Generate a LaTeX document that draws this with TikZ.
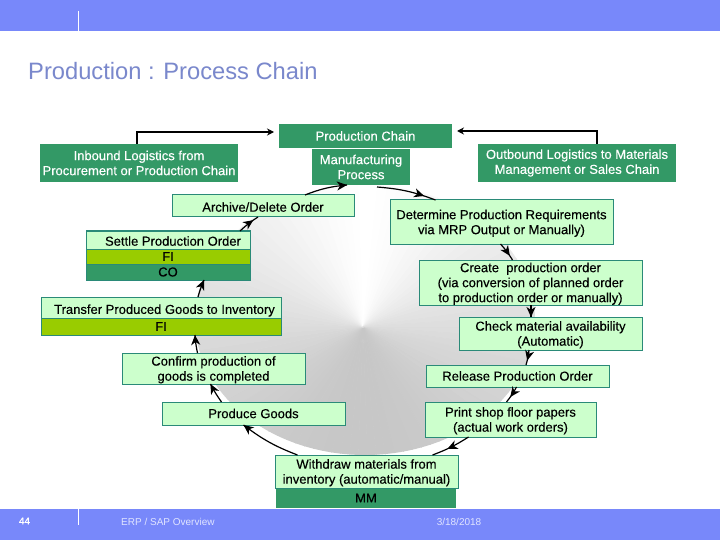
\documentclass[tikz,border=0pt]{standalone}
\usepackage{fontspec}
\setmainfont{Liberation Sans}
\newfontfamily\boxfont[FakeBold=0.3]{Liberation Sans}
\usetikzlibrary{arrows.meta,calc,decorations.markings}
\definecolor{band}{HTML}{7888FA}
\definecolor{titleblue}{HTML}{7A88CC}
\definecolor{footgrey}{HTML}{E0E4FF}
\definecolor{dgreen}{HTML}{339966}
\definecolor{lgreen}{HTML}{CCFFCC}
\definecolor{olive}{HTML}{99CC00}
\definecolor{edgeteal}{HTML}{2A8A78}
\newcommand\firstline{\rule{0pt}{12pt}}
\tikzset{
  basebox/.style={inner sep=0pt,outer sep=0pt,align=center,font=\boxfont\fontsize{13}{15}\selectfont},
  darkbox/.style={basebox,fill=dgreen,text=white},
  lightbox/.style={basebox,fill=lgreen,draw=edgeteal,line width=1pt,text=black},
  fibox/.style={basebox,fill=olive,draw=edgeteal,line width=1pt,text=black},
  cobox/.style={basebox,fill=dgreen,draw=edgeteal,line width=1pt,text=black},
  mmbox/.style={basebox,fill=dgreen,text=black},
  nudge/.style={execute at begin node={\rule{0pt}{#1}}},
  flow/.style={line width=1.2pt,black,postaction={decorate},decoration={markings,mark=at position #1 with {\arrow{Stealth[length=10pt,width=9pt,inset=3pt]}}}},
  feed/.style={line width=2pt,black,-{Stealth[length=7pt,width=7pt]}},
  foot/.style={inner sep=0pt,font=\fontsize{10}{12}\selectfont}
}
\begin{document}
\begin{tikzpicture}[x=1pt,y=-1pt]
\useasboundingbox (0,0) rectangle (720,540);
\fill[white] (0,0) rectangle (720,540);
% central fan
\begin{scope}
\clip (365,320) ellipse [x radius=170,y radius=135];
\foreach \t in {0,4,...,356}{
  \pgfmathsetmacro\g{22*(0.5+0.5*sin(\t))^0.7}
  \fill[black!\g,draw=black!\g,line width=0.4pt] (363,327) -- ++(\t:420) -- ++({\t+90}:30) -- cycle;
}
\end{scope}
% bands
\fill[band] (0,0) rectangle (720,31);
\fill[band] (0,509) rectangle (720,540);
\coordinate (tickT1) at (78.5,11);
\coordinate (tickT2) at (78.5,31);
\coordinate (tickB1) at (78.5,509);
\coordinate (tickB2) at (78.5,525);
\draw[white,line width=0.8pt] (tickT1) -- (tickT2);
\draw[white,line width=0.8pt] (tickB1) -- (tickB2);
\node[anchor=west,inner sep=0pt,text=titleblue,font=\fontsize{23.7}{28}\selectfont] (title) at (28,71) {Production : Process Chain};
\node[foot,text=white,font=\boxfont\fontsize{10}{12}\selectfont] (pagenum) at (24.5,521) {44};
\node[foot,text=footgrey,anchor=west] (footer) at (121,521.5) {ERP / SAP Overview};
\node[foot,text=footgrey] (date) at (459,521.5) {3/18/2018};
% dark boxes
\node[darkbox,minimum width=173pt,minimum height=24pt] (chain) at (365.5,136) {Production Chain};
\node[darkbox,minimum width=198pt,minimum height=38pt] (inb) at (139,163) {Inbound Logistics from\\Procurement or Production Chain};
\node[darkbox,minimum width=98pt,minimum height=36pt] (manu) at (361,167) {Manufacturing\\Process};
\node[darkbox,minimum width=198pt,minimum height=38pt] (outb) at (577,163) {Outbound Logistics to Materials\\Management or Sales Chain};
% light boxes
\node[lightbox,nudge=11.5pt,minimum width=182pt,minimum height=22pt] (arch) at (263,206) {Archive/Delete Order};
\node[lightbox,minimum width=223pt,minimum height=44pt] (det) at (501.5,222) {\firstline Determine Production Requirements\\via MRP Output or Manually)};
\node[lightbox,minimum width=223pt,minimum height=45pt] (crea) at (530.5,282.5) {\firstline Create\ \ production order\\(via conversion of planned order\\to production order or manually)};
\node[lightbox,minimum width=183pt,minimum height=33pt] (chk) at (550.5,333.5) {\firstline Check material availability\\(Automatic)};
\node[lightbox,minimum width=183pt,minimum height=22pt] (rel) at (517.5,376) {Release Production Order};
\node[lightbox,minimum width=171pt,minimum height=35pt] (prin) at (510.5,419.5) {\firstline Print shop floor papers\\(actual work orders)};
\node[lightbox,minimum width=183pt,minimum height=33pt] (with) at (366.5,471.5) {\firstline Withdraw materials from\\inventory (automatic/manual)};
\node[mmbox,minimum width=180pt,minimum height=19pt] (mm) at (366,498) {MM};
\node[lightbox,minimum width=183pt,minimum height=23pt] (prod) at (253.5,413.5) {Produce Goods};
\node[lightbox,minimum width=183pt,minimum height=31pt] (conf) at (213.5,368.5) {\firstline Confirm production of\\goods is completed};
\node[lightbox,nudge=15.5pt,minimum width=240pt,minimum height=21pt] (tran) at (161,307.5) {\hspace{7pt}Transfer Produced Goods to Inventory};
\node[fibox,minimum width=240pt,minimum height=17pt] (tranfi) at (161,326.5) {FI};
\node[lightbox,nudge=11.5pt,minimum width=164pt,minimum height=18pt] (sett) at (168,240) {\hspace{10pt}Settle Production Order};
\node[fibox,minimum width=164pt,minimum height=15pt] (settfi) at (168,256.5) {FI};
\node[cobox,minimum width=164pt,minimum height=16pt] (settco) at (168,272) {CO};
% feeds
\coordinate (feedA) at ($(chain.west)+(-5,-4)$);
\coordinate (feedB) at ($(chain.east)+(5,-5)$);
\draw[feed] ($(inb.north)+(-2,0)$) |- (feedA);
\draw[feed] ($(outb.north)+(20,0)$) |- (feedB);
% cycle
\draw[flow=1] ($(arch.north)+(42,0)$) to[bend left=8] ($(manu.south)+(-14,0)$);
\draw[flow=0.8] ($(manu.south)+(16,2)$) to[bend left=8] ($(det.north)+(-66,0)$);
\draw[flow=0.75] ($(det.south)+(-1,0)$) to[bend left=5] ($(crea.north)+(-18,0)$);
\draw[flow=1] ($(crea.south)+(0.5,0)$) -- ($(chk.north)+(-19.5,0)$);
\draw[flow=0.7] ($(chk.south)+(-21.5,0)$) to[bend left=5] ($(rel.north)+(8.5,0)$);
\draw[flow=0.65] ($(rel.south)+(-1,0)$) to[bend left=5] ($(prin.north)+(-4,0)$);
\draw[flow=0.6] ($(prin.south)+(-42,0)$) to[bend left=6] ($(with.north)+(66,0)$);
\draw[flow=1] ($(with.north)+(-69,0)$) to[bend left=8] ($(prod.south)+(-10,0)$);
\draw[flow=1] ($(prod.north)+(-32,0)$) to[bend left=4] ($(conf.south)+(-3,0)$);
\draw[flow=1] ($(conf.north)+(-16,0)$) to[bend left=4] ($(tranfi.south)+(34,0)$);
\draw[flow=1] ($(tran.north)+(37,0)$) to[bend left=4] ($(settco.south)+(36,0)$);
\draw[flow=0.75] ($(sett.north)+(72,0)$) to[bend left=5] ($(arch.south)+(-5,0)$);
\end{tikzpicture}
\end{document}
